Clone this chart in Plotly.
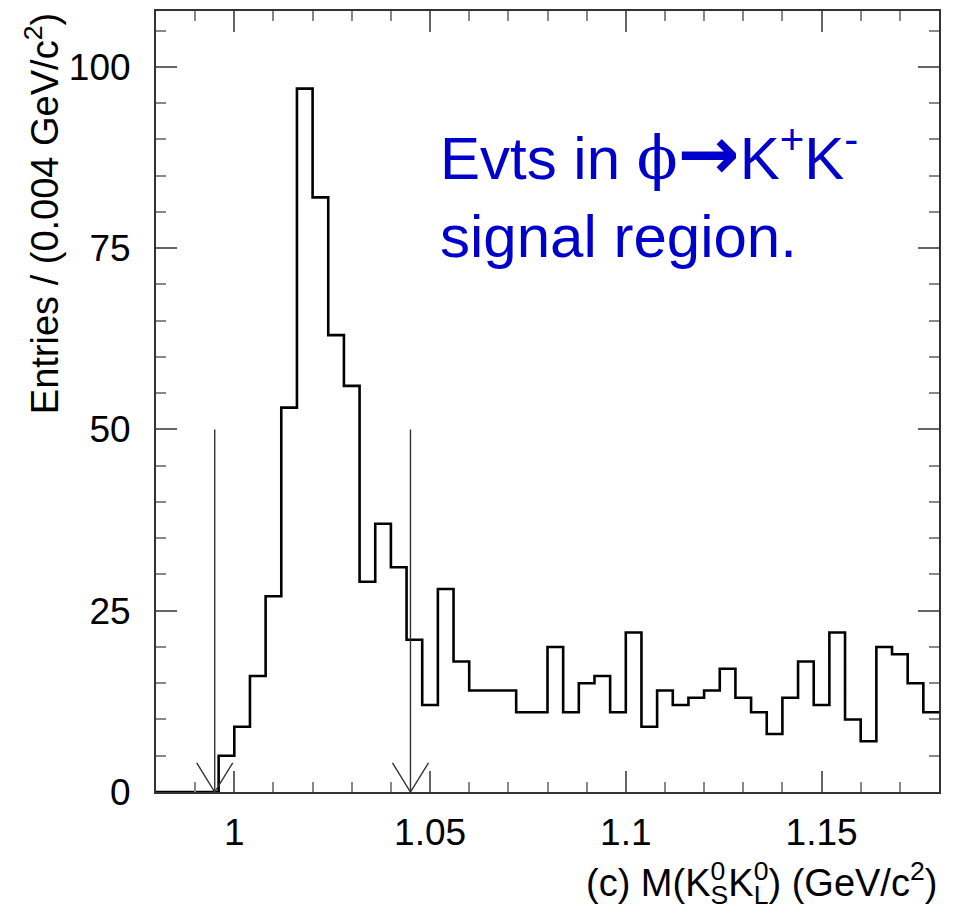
import numpy as np
import plotly.graph_objects as go

# ---- data ----
x_min, x_max, bin_width = 0.98, 1.18, 0.004
counts = [0, 0, 0, 0, 5, 9, 16, 27, 53, 97,
          82, 63, 56, 29, 37, 31, 21, 12, 28, 18,
          14, 14, 14, 11, 11, 20, 11, 15, 16, 11,
          22, 9, 14, 12, 13, 14, 17, 13, 11, 8,
          13, 18, 12, 22, 10, 7, 20, 19, 15, 11]
cut_positions = [0.995, 1.045]
cut_arrow_top = 50
x_tick_vals = [1.0, 1.05, 1.1, 1.15]
x_tick_text = ["1", "1.05", "1.1", "1.15"]
y_tick_vals = [0, 25, 50, 75, 100]
y_tick_text = ["0", "25", "50", "75", "100"]

# ---- styling constants ----
FONT = "Liberation Sans, Arial, Helvetica, sans-serif"
head_dx, head_dy = 0.0046, 4.0

edges = x_min + bin_width * np.arange(len(counts) + 1)
hist_x = list(edges)
hist_y = list(counts) + [counts[-1]]

fig = go.Figure()
fig.add_trace(go.Scatter(x=hist_x, y=hist_y, mode="lines",
                         line=dict(color="black", width=2.6, shape="hv"),
                         hoverinfo="skip", showlegend=False))

for c in cut_positions:
    fig.add_trace(go.Scatter(x=[c, c], y=[cut_arrow_top, 0], mode="lines",
                             line=dict(color="#333333", width=1.4),
                             hoverinfo="skip", showlegend=False))
    fig.add_trace(go.Scatter(x=[c - head_dx, c, c + head_dx], y=[head_dy, 0, head_dy],
                             mode="lines", line=dict(color="#333333", width=1.4),
                             hoverinfo="skip", showlegend=False))

axis_common = dict(showgrid=False, zeroline=False, showline=True, linecolor="#333333",
                   linewidth=2, mirror="allticks", ticks="inside", ticklen=21,
                   tickwidth=1.5, tickcolor="#666666",
                   tickfont=dict(family=FONT, size=37, color="black"))

fig.update_xaxes(range=[x_min, x_max], tickmode="array", tickvals=x_tick_vals,
                 ticktext=x_tick_text, ticklabelstandoff=7,
                 minor=dict(dtick=0.01, tick0=1.0, ticks="inside", ticklen=10,
                            tickwidth=1.5, tickcolor="#888888"),
                 **axis_common)
fig.update_yaxes(range=[0, 107.7], tickmode="array", tickvals=y_tick_vals,
                 ticktext=y_tick_text, ticklabelstandoff=16,
                 minor=dict(dtick=5, tick0=0, ticks="inside", ticklen=10,
                            tickwidth=1.5, tickcolor="#888888"),
                 **axis_common)

fig.add_annotation(xref="paper", yref="paper", x=-0.146, y=1.0, xanchor="center",
                   yanchor="top", textangle=-90, showarrow=False,
                   text="Entries / (0.004 GeV/c<sup>2</sup>)",
                   font=dict(family=FONT, size=38, color="black"))

fig.add_annotation(xref="paper", yref="paper", x=1.0, y=-0.116, xanchor="right",
                   yanchor="middle", showarrow=False,
                   text=("(c) M(K<sup><span style=\"letter-spacing:-0.556em\">0</span></sup>"
                         "<sub>S</sub>K<sup><span style=\"letter-spacing:-0.556em\">0</span></sup>"
                         "<sub>L</sub>) (GeV/c<sup>2</sup>)"),
                   font=dict(family=FONT, size=38, color="black"))

fig.add_annotation(xref="paper", yref="paper", x=(438 - 156) / 783, y=(792 - 106) / 783,
                   xanchor="left", yanchor="top", align="left", showarrow=False,
                   text=("Evts in <span style=\"font-family:DejaVu Serif\">ϕ</span>"
                         "<span style=\"font-family:DejaVu Sans;font-weight:bold;font-size:74px\">→</span>"
                         "K<sup>+</sup>K<sup>-</sup><br>signal region."),
                   font=dict(family=FONT, size=60, color="#0000CC"))

fig.update_layout(width=954, height=914, margin=dict(l=156, r=15, t=9, b=122),
                  paper_bgcolor="white", plot_bgcolor="white", showlegend=False)

fig.write_html("out.html")
